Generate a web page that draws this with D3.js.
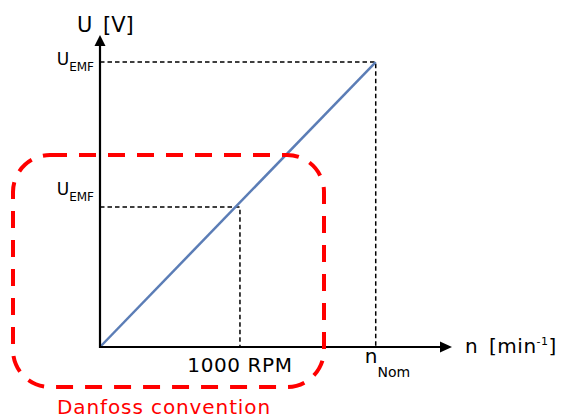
<!DOCTYPE html>
<html>
<head>
<meta charset="utf-8">
<script src="https://cdn.jsdelivr.net/npm/d3@7"></script>
<style>
  body { margin: 0; background: #fff; }
  svg text { font-family: "DejaVu Sans", Verdana, sans-serif; fill: #000; }
  .guide { stroke: #000; stroke-width: 1.5; stroke-dasharray: 4.5 3; fill: none; }
  .axis-line { stroke: #000; stroke-width: 2.2; }
  .emf { stroke: #5b7db6; stroke-width: 2.5; fill: none; }
  .frame { stroke: #ff0000; stroke-width: 4; stroke-dasharray: 17 12; fill: none; }
</style>
</head>
<body>
<svg width="561" height="419" viewBox="0 0 561 419"></svg>
<script>
// speed in rpm, voltage in % of nominal back-emf
let speedMax = 2515;
let voltMax = 109.5;
let nNom = 1970;
let speeds = [0, nNom];
let volts = [0, 100];
let refSpeed = 1000;
let refVolt = 49.1;

let svg = d3.select("svg");
let x = d3.scaleLinear().domain([0, speedMax]).range([100, 452]);
let y = d3.scaleLinear().domain([0, voltMax]).range([347, 35]);

let data = speeds.map((s, i) => ({ n: s, u: volts[i] }));

// dashed guides
let guides = [
  { n: nNom, u: 100 },
  { n: refSpeed, u: refVolt },
];
svg
  .selectAll(".guide")
  .data(guides)
  .enter()
  .append("path")
  .attr("class", "guide")
  .attr("d", (d) => `M${x(0)},${y(d.u)}H${x(d.n)}V${y(0)}`);

// emf line
let line = d3
  .line()
  .x((d) => x(d.n))
  .y((d) => y(d.u));
svg.append("path").datum(data).attr("class", "emf").attr("d", line);

// axes with arrow heads
svg
  .append("line")
  .attr("class", "axis-line")
  .attr("x1", x(0))
  .attr("y1", y(0))
  .attr("x2", x(speedMax) - 8)
  .attr("y2", y(0));
svg
  .append("line")
  .attr("class", "axis-line")
  .attr("x1", x(0))
  .attr("y1", y(0) + 1)
  .attr("x2", x(0))
  .attr("y2", y(voltMax) + 8);

let xe = x(speedMax), ye = y(voltMax);
svg
  .append("path")
  .attr("d", `M${xe},${y(0)}L${xe - 12},${y(0) - 5.5}L${xe - 12},${y(0) + 5.5}Z`)
  .attr("fill", "#000");
svg
  .append("path")
  .attr("d", `M${x(0)},${ye}L${x(0) - 5.5},${ye + 11}L${x(0) + 5.5},${ye + 11}Z`)
  .attr("fill", "#000");

// axis titles
svg
  .append("text")
  .attr("x", 77)
  .attr("y", 32)
  .style("font-size", "21px")
  .style("word-spacing", "4px")
  .text("U [V]");

let nt = svg
  .append("text")
  .attr("x", 465)
  .attr("y", 353)
  .style("font-size", "20px")
  .style("word-spacing", "4px")
  .style("letter-spacing", "0.5px");
nt.append("tspan").text("n [min");
nt.append("tspan").attr("dy", -8).style("font-size", "11px").text("-1");
nt.append("tspan").attr("dy", 8).text("]");

// U_EMF labels
[
  { u: 100, base: 65 },
  { u: refVolt, base: 195 },
].forEach((d) => {
  let t = svg
    .append("text")
    .attr("x", 94)
    .attr("y", d.base)
    .attr("text-anchor", "end")
    .style("font-size", "17px");
  t.append("tspan").text("U");
  t.append("tspan").attr("dy", 6).style("font-size", "12px").text("EMF");
});

// speed labels
svg
  .append("text")
  .attr("x", x(refSpeed))
  .attr("y", 372)
  .attr("text-anchor", "middle")
  .style("font-size", "20px")
  .style("letter-spacing", "0.6px")
  .text("1000 RPM");

let nn = svg.append("text").attr("x", x(nNom) - 11).attr("y", 363).style("font-size", "20px");
nn.append("tspan").text("n");
nn.append("tspan").attr("dy", 14).style("font-size", "14px").text("Nom");

// red highlight frame
svg
  .append("rect")
  .attr("class", "frame")
  .attr("x", 13)
  .attr("y", 155)
  .attr("width", 311)
  .attr("height", 232)
  .attr("rx", 37);

svg
  .append("text")
  .attr("x", 57)
  .attr("y", 414)
  .style("font-size", "20px")
  .style("letter-spacing", "0.9px")
  .style("fill", "#ff0000")
  .text("Danfoss convention");
</script>
</body>
</html>
